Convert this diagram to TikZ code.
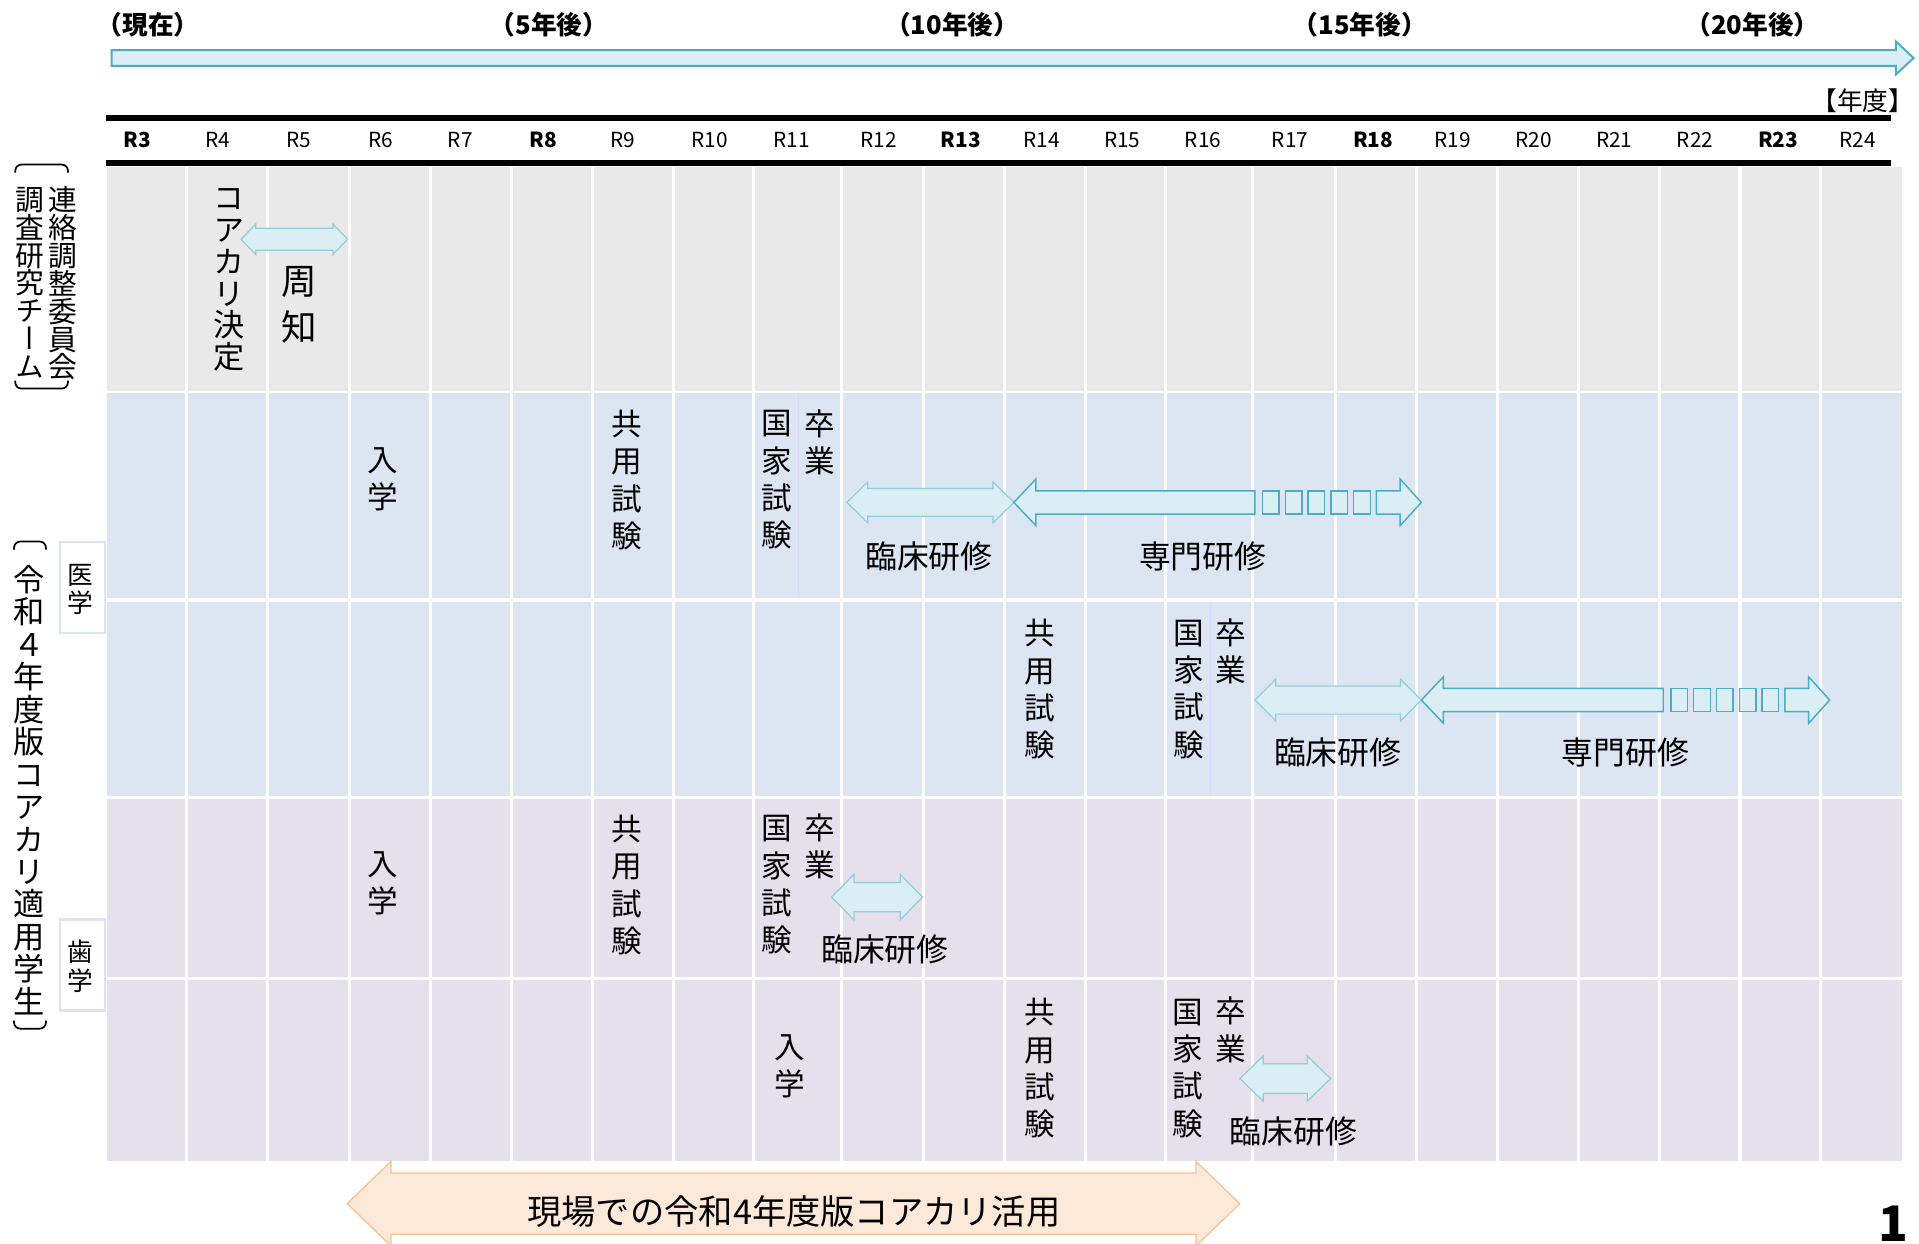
\documentclass[tikz,border=0pt]{standalone}
\usepackage{fontspec}
\setmainfont{Noto Sans CJK JP}
\newfontfamily\tatefont{Noto Sans CJK JP}[RawFeature=+vert]
\usepackage{tikz}
\usetikzlibrary{calc}
\definecolor{rowgrey}{HTML}{E9E9E9}
\definecolor{rowblue}{HTML}{DCE6F2}
\definecolor{rowpurple}{HTML}{E5E0EC}
\definecolor{arrowfill}{HTML}{DAEEF3}
\definecolor{arrowline}{HTML}{4BACC6}
\definecolor{arrowpale}{HTML}{92CDDC}
\definecolor{orangefill}{HTML}{FDE9D9}
\definecolor{orangeline}{HTML}{FAC090}
\newcommand{\tightlines}{\lineskiplimit=-10pt\relax}
\tikzstyle{tate} = [inner sep=0pt, align=center]
\tikzstyle{event} = [tate, font=\tatefont\fontsize{25}{30.5}\selectfont]
\tikzstyle{yoko} = [inner sep=0pt, font=\fontsize{26}{30}\selectfont]
\tikzstyle{yearlab} = [inner sep=0pt, font=\fontsize{17}{20}\selectfont]
\tikzstyle{toplab} = [inner sep=0pt, font=\fontsize{21}{24}\selectfont\bfseries]
\tikzstyle{rinsho} = [draw=arrowpale, fill=arrowfill, line width=1pt]
\tikzstyle{senmon} = [draw=arrowline, fill=arrowfill, line width=1.2pt]
\tikzstyle{gridline} = [white, line width=2.5pt]
\tikzstyle{bracket} = [line width=1.4pt, rounded corners=5pt]
% block arrows: style, x1, x2, y, shaft half, head half, head length
\newcommand{\dblarrow}[7]{\draw[#1] (#2,#4) -- ++(#7,-#6) -- ++(0,#6-#5) -- (#3-#7,#4-#5) -- ++(0,#5-#6) -- (#3,#4) -- ++(-#7,#6) -- ++(0,#5-#6) -- (#2+#7,#4+#5) -- ++(0,#6-#5) -- cycle;}
\newcommand{\lblockarrow}[7]{\draw[#1] (#2,#4) -- ++(#7,-#6) -- ++(0,#6-#5) -- (#3,#4-#5) -- (#3,#4+#5) -- (#2+#7,#4+#5) -- ++(0,#6-#5) -- cycle;}
\newcommand{\rblockarrow}[7]{\draw[#1] (#2,#4-#5) -- (#3-#7,#4-#5) -- ++(0,#5-#6) -- (#3,#4) -- (#3-#7,#4+#6) -- ++(0,#5-#6) -- (#2,#4+#5) -- cycle;}
% tip x, shaft end x, y
\newcommand{\senmonarrow}[3]{
	\lblockarrow{senmon}{#1}{#2}{#3}{9.5}{19}{18}
	\foreach \i in {0,...,4}
		\draw[senmon] (#2+6.3+18.6*\i,#3-9.5) rectangle ++(13.6,19);
	\rblockarrow{senmon}{#2+99.3}{#2+136}{#3}{9.5}{19}{17.2}
}

\begin{document}
\begin{tikzpicture}[x=1pt, y=-1pt]
		\useasboundingbox (0,0) rectangle (1568,1016);
		\clip (0,0) rectangle (1568,1016);
		
		\rblockarrow{draw=arrowline, fill=arrowfill, line width=1.6pt}{91.2}{1563.6}{47.4}{6.5}{13.6}{14.6}
		\node[toplab] (now) at (121,20) {（現在）};
		\node[toplab] (y5) at (448.6,20) {（5年後）};
		\node[toplab] (y10) at (778,20) {（10年後）};
		\node[toplab] (y15) at (1111,20) {（15年後）};
		\node[toplab] (y20) at (1432,20) {（20年後）};
		\node[inner sep=0pt, font=\fontsize{21}{24}\selectfont] (nendo) at (1522,82.5) {【年度】};
		
		\draw[line width=4.5pt] (86.4,96.3) -- (1545,96.3);
		\draw[line width=4.5pt] (86.4,133) -- (1545,133);
		\foreach \xx/\lab/\ff in {112/R3/\bfseries, 178/R4/, 244/R5/, 311/R6/, 376/R7/, 444/R8/\bfseries, 509/R9/, 580/R10/, 647/R11/, 718/R12/, 785/R13/\bfseries, 851/R14/, 917/R15/, 983/R16/, 1054/R17/, 1122/R18/\bfseries, 1187/R19/, 1253/R20/, 1319/R21/, 1385/R22/, 1453/R23/\bfseries, 1518/R24/}
			\node[yearlab] (\lab) at (\xx,114) {\ff\lab};
		
		\fill[rowgrey] (87.5,136.5) rectangle (1553.9,319.5);
		\fill[rowblue] (87.5,321.5) rectangle (1553.9,489);
		\fill[rowblue] (87.5,491.5) rectangle (1553.9,650.5);
		\fill[rowpurple] (87.5,652.5) rectangle (1553.9,798.5);
		\fill[rowpurple] (87.5,801) rectangle (1553.9,948.5);
		\foreach \gx in {152.6, 218.9, 285.3, 351.9, 417.6, 484.3, 550, 615.6, 687.8, 754.2, 820.9, 886.6, 952.2, 1023.3, 1091, 1157.2, 1223.4, 1289.5, 1355.6, 1421.7, 1487.8}
			\draw[gridline] (\gx,136) -- (\gx,949);
		\draw[color=blue!15, line width=0.8pt] (652.6,321.5) -- (652.6,489);
		\draw[color=blue!15, line width=0.8pt] (989,491.5) -- (989,650.5);
		
		\draw[bracket] (12.5,141) |- (55.5,134.5) -- (55.5,141);
		\draw[bracket] (12.5,311) |- (55.5,317.5) -- (55.5,311);
		\node[tate, font=\tatefont\fontsize{23.5}{22.8}\selectfont\tightlines] (renraku) at (51.7,231.5) {連\\絡\\調\\整\\委\\員\\会};
		\node[tate, font=\tatefont\fontsize{23.5}{22.8}\selectfont\tightlines] (chosa) at (24.5,231) {調\\査\\研\\究\\チ\\ー\\ム};
		
		\draw[bracket] (11.5,449) |- (37.5,442.5) -- (37.5,449);
		\draw[bracket] (11.5,834) |- (37.5,840.5) -- (37.5,834);
		\node[tate, font=\tatefont\fontsize{25.5}{26.5}\selectfont\tightlines] (gakusei) at (23.8,645.5) {令\\和\\４\\年\\度\\版\\コ\\ア\\カ\\リ\\適\\用\\学\\生};
		\draw[draw=rowblue, fill=white, line width=2pt] (49,443) rectangle (85.8,517);
		\node[tate, font=\tatefont\fontsize{21}{23}\selectfont] (igaku) at (66,481.5) {医\\学};
		\draw[draw=rowpurple, fill=white, line width=2pt] (49,751.4) rectangle (85.8,825.8);
		\node[tate, font=\tatefont\fontsize{21}{23}\selectfont] (shigaku) at (66,789.5) {歯\\学};
		
		\node[tate, font=\tatefont\fontsize{25.5}{26}\selectfont\tightlines] (kettei) at (187,228.8) {コ\\ア\\カ\\リ\\決\\定};
		\dblarrow{rinsho}{197}{284}{195.5}{9}{12.5}{12}
		\node[tate, font=\tatefont\fontsize{29}{38}\selectfont] (shuchi) at (244.4,249.2) {周\\知};
		
		\node[event] (nyu1) at (313,391.5) {入\\学};
		\node[event] (kyo1) at (512,392.2) {共\\用\\試\\験};
		\node[event] (koku1) at (634.4,392.2) {国\\家\\試\\験};
		\node[event] (sotsu1) at (670,361.5) {卒\\業};
		\dblarrow{rinsho}{692}{828.4}{410.5}{11.3}{16.7}{17}
		\senmonarrow{828.4}{1025.3}{410.5}
		\node[yoko] (rin1) at (759,455) {臨床研修};
		\node[yoko] (sen1) at (982.7,455) {専門研修};
		
		\node[event] (kyo2) at (849.5,563.2) {共\\用\\試\\験};
		\node[event] (koku2) at (971,563.2) {国\\家\\試\\験};
		\node[event] (sotsu2) at (1006,532.5) {卒\\業};
		\dblarrow{rinsho}{1025.4}{1161.4}{572}{11.5}{17}{17}
		\senmonarrow{1161.4}{1359}{572}
		\node[yoko] (rin2) at (1093,615) {臨床研修};
		\node[yoko] (sen2) at (1328,615) {専門研修};
		
		\node[event] (nyu3) at (313,721.5) {入\\学};
		\node[event] (kyo3) at (512,723.1) {共\\用\\試\\験};
		\node[event] (koku3) at (634.5,723.1) {国\\家\\試\\験};
		\node[event] (sotsu3) at (670,691.8) {卒\\業};
		\dblarrow{rinsho}{679.5}{753.8}{733}{11.9}{18.6}{18.2}
		\node[yoko] (rin3) at (723,776) {臨床研修};
		
		\node[event] (nyu4) at (645,871) {入\\学};
		\node[event] (kyo4) at (849.7,872.8) {共\\用\\試\\験};
		\node[event] (koku4) at (970.8,872.8) {国\\家\\試\\験};
		\node[event] (sotsu4) at (1006,841.5) {卒\\業};
		\dblarrow{rinsho}{1013.1}{1087.2}{881.3}{12.2}{18.4}{19}
		\node[yoko] (rin4) at (1056.7,924.5) {臨床研修};
		
		\dblarrow{draw=orangeline, fill=orangefill, line width=1pt}{283.7}{1013}{983.5}{25}{34.5}{35.7}
		\node[inner sep=0pt, font=\fontsize{28}{32}\selectfont] (katsuyo) at (648.7,990) {現場での令和4年度版コアカリ活用};
		\node[inner sep=0pt, font=\fontsize{40}{44}\selectfont\bfseries] (page) at (1547,999.5) {1};
		
	\end{tikzpicture}
\end{document}
